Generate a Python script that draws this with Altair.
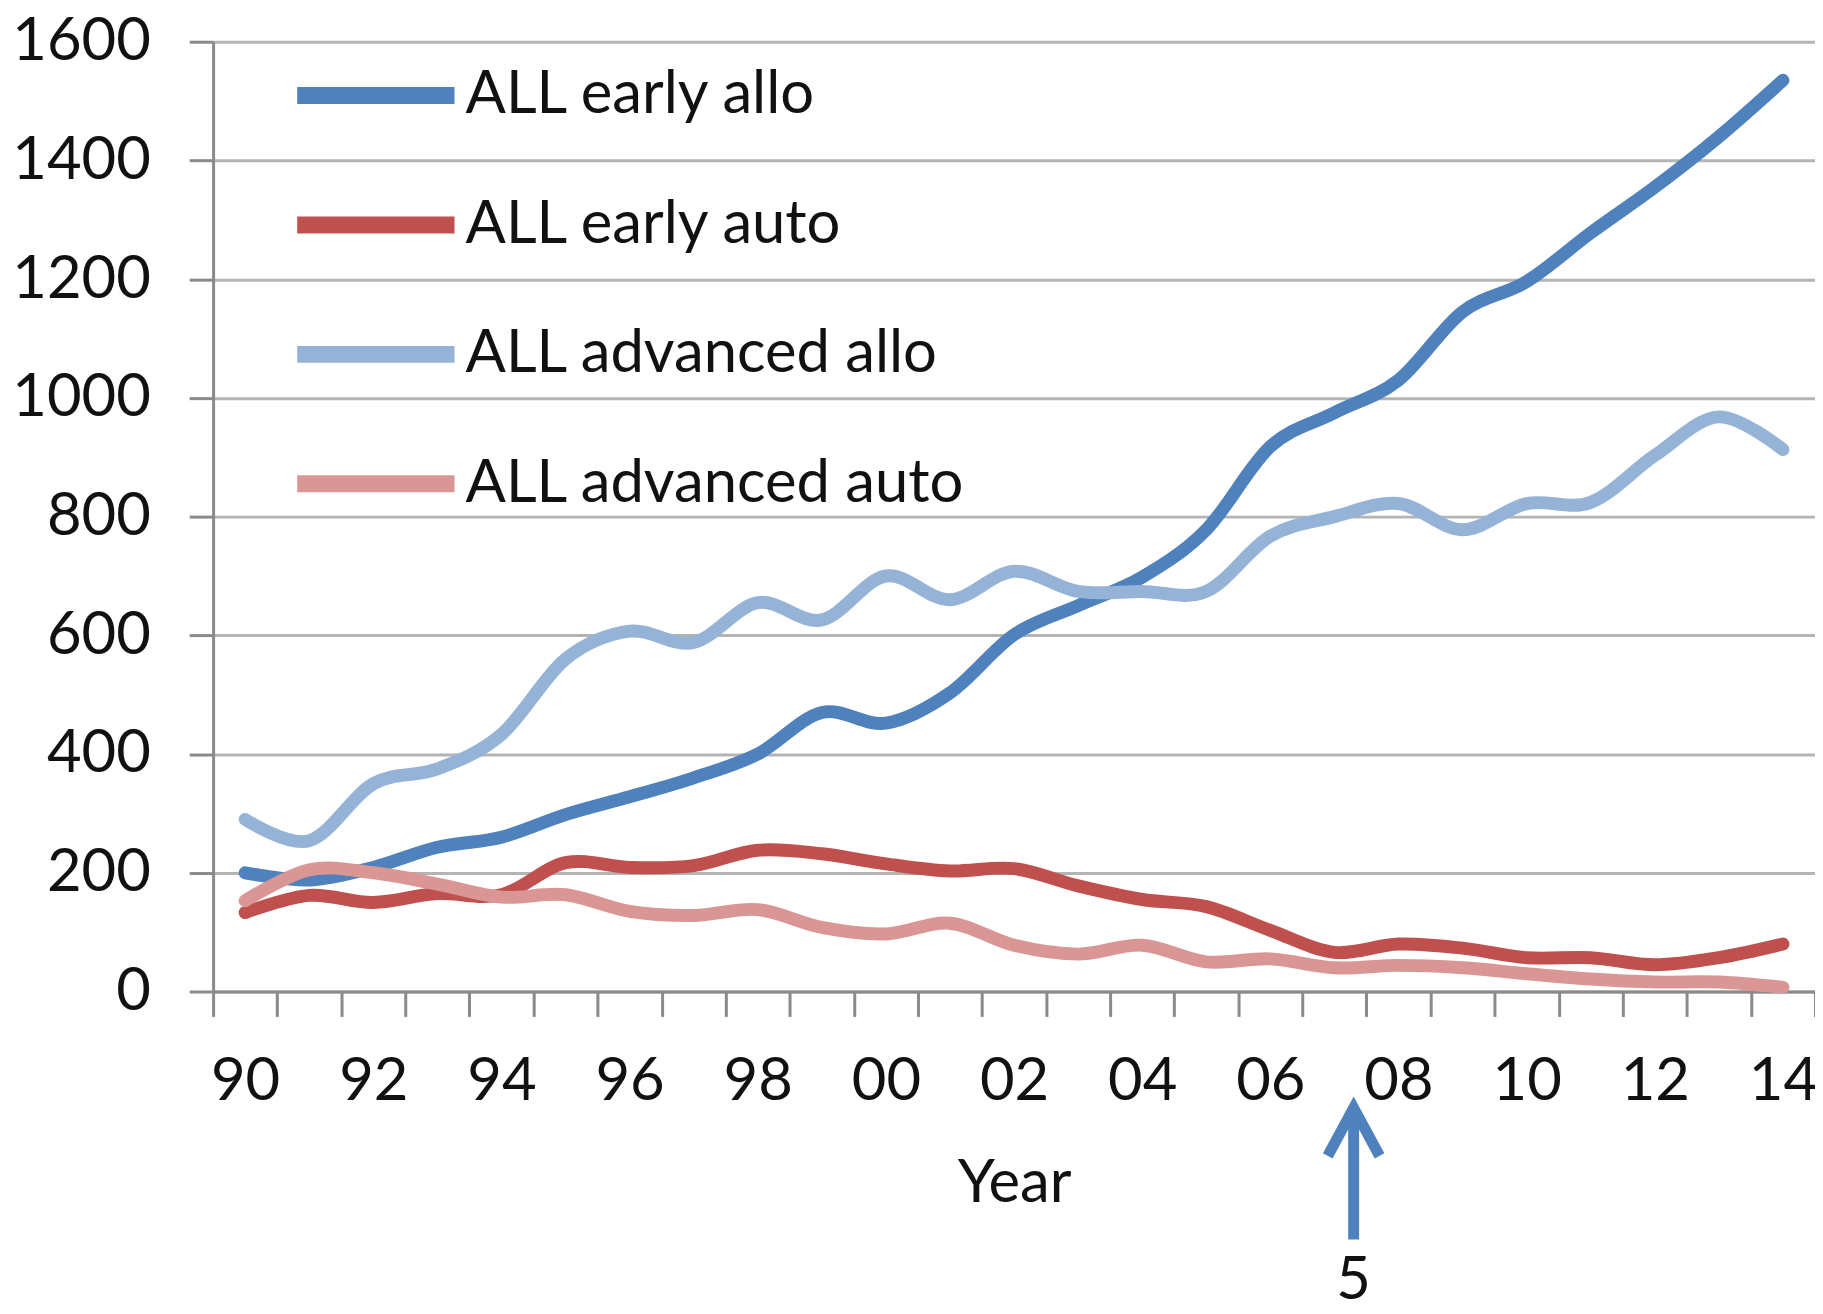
import altair as alt
import pandas as pd

# ---- data ----
years = list(range(1990, 2015))
series_names = ["ALL early allo", "ALL early auto", "ALL advanced allo", "ALL advanced auto"]
series_colors = ["#4F81BD", "#C0504D", "#95B3D7", "#D99694"]

early_allo = [200, 188, 209, 243, 260, 298, 328, 360, 400, 470, 452, 503, 601, 650, 698,
              778, 918, 975, 1030, 1145, 1196, 1278, 1355, 1440, 1535]
early_auto = [133, 162, 150, 165, 163, 217, 209, 212, 238, 232, 215, 203, 207, 178, 155,
              143, 103, 66, 80, 73, 57, 57, 45, 57, 80]
advanced_allo = [290, 254, 350, 375, 433, 560, 607, 588, 655, 626, 700, 660, 708, 674, 674,
                 674, 767, 800, 822, 778, 822, 824, 903, 968, 913]
advanced_auto = [153, 205, 200, 181, 159, 163, 135, 128, 138, 108, 97, 115, 78, 63, 78,
                 50, 55, 40, 44, 40, 30, 21, 16, 16, 7]

y_ticks = list(range(0, 1601, 200))
annotation_year = [2007]
annotation_text = ["5"]

rows = []
for name, vals in zip(series_names, [early_allo, early_auto, advanced_allo, advanced_auto]):
    for yr, v in zip(years, vals):
        rows.append({"year": yr, "value": v, "series": name})
df = pd.DataFrame(rows)
ann = pd.DataFrame({"year": annotation_year, "label": annotation_text})

FONT = "Lato"
FS = 60
TXT = "#111111"
AXC = "#8a8a8a"

x_axis = alt.Axis(
    title="Year", tickBand="extent", labelAngle=0,
    labelExpr="datum.value % 2 == 0 ? slice(toString(datum.value), 2) : ''",
    labelFont=FONT, labelFontSize=FS, labelColor=TXT, labelPadding=36,
    labelOverlap=False, tickSize=25, tickColor=AXC, tickWidth=3,
    domainColor=AXC, domainWidth=3, grid=False,
    titleFont=FONT, titleFontSize=FS, titleFontWeight="normal", titleColor=TXT,
    titleY=211, titleBaseline="alphabetic",
)
x_scale = alt.Scale(type="band", paddingInner=0, paddingOuter=0)

y_axis = alt.Axis(
    values=y_ticks, format="d", title=None, grid=True, gridColor="#b4b4b4", gridWidth=3,
    tickSize=24, tickColor=AXC, tickWidth=3, domainColor=AXC, domainWidth=3,
    labelFont=FONT, labelFontSize=FS, labelColor=TXT, labelPadding=39,
)

legend = alt.Legend(
    title=None, orient="none", legendX=133.5, legendY=24,
    symbolType="M-4,0H4", symbolSize=1560, symbolStrokeWidth=17,
    labelFont=FONT, labelFontSize=FS, labelColor=TXT, labelOffset=60,
    labelLimit=1000, rowPadding=62, padding=0, symbolOffset=0,
)

base = alt.Chart(df).mark_line(strokeWidth=13, interpolate="cardinal", strokeCap="round").encode(
    x=alt.X("year:O", scale=x_scale, axis=x_axis, bandPosition=0.5),
    y=alt.Y("value:Q", scale=alt.Scale(domain=[0, 1600], nice=False), axis=y_axis),
    color=alt.Color("series:N", scale=alt.Scale(domain=series_names, range=series_colors),
                    legend=legend, sort=series_names),
)
line_layers = [base.transform_filter(alt.datum.series == s) for s in series_names]

ann_base = alt.Chart(ann)
shaft = ann_base.mark_rule(color="#4F81BD", strokeWidth=11).encode(
    x=alt.X("year:O", scale=x_scale, axis=x_axis, bandPosition=0.8),
    y=alt.value(1071), y2=alt.value(1203),
)
head = ann_base.mark_point(shape="M-1,1.85L0,0L1,1.85", size=2704, filled=False,
                           strokeWidth=11, color="#4F81BD", opacity=1).encode(
    x=alt.X("year:O", scale=x_scale, axis=x_axis, bandPosition=0.8),
    y=alt.value(1071),
)
label = ann_base.mark_text(font=FONT, fontSize=FS, color=TXT, align="center",
                           baseline="alphabetic").encode(
    x=alt.X("year:O", scale=x_scale, axis=x_axis, bandPosition=0.8),
    y=alt.value(1263), text="label:N",
)

chart = alt.layer(*line_layers, shaft, head, label).properties(
    width=1609, height=954,
    padding={"left": 206, "top": 31, "right": 0, "bottom": 313},
    autosize=alt.AutoSizeParams(type="none"),
    background="white",
).configure_view(stroke=None)

chart.save("out.html", embed_options={"renderer": "svg", "actions": False})
